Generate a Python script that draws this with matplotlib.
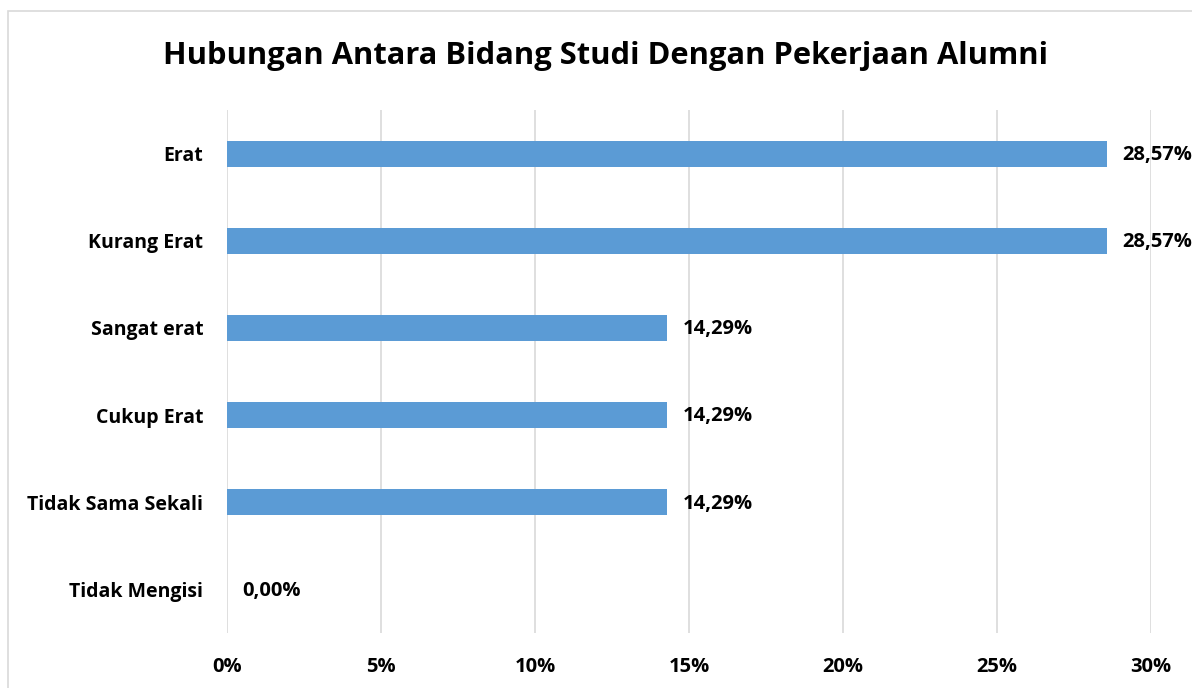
import matplotlib.pyplot as plt
from matplotlib.patches import Rectangle

plt.rcParams['font.family'] = ['Open Sans', 'DejaVu Sans']

# Data (top to bottom as shown)
categories = ["Erat", "Kurang Erat", "Sangat erat", "Cukup Erat",
              "Tidak Sama Sekali", "Tidak Mengisi"]
values = [28.57, 28.57, 14.29, 14.29, 14.29, 0.00]
labels = ["28,57%", "28,57%", "14,29%", "14,29%", "14,29%", "0,00%"]
xticks = [0, 5, 10, 15, 20, 25, 30]

fig = plt.figure(figsize=(11.92, 6.88), dpi=100)
ax = fig.add_axes([0.1904, 0.0799, 0.7752, 0.7602])

ypos = list(range(len(categories)))[::-1]
ax.barh(ypos, values, height=0.3, color="#5B9BD5", zorder=3)

for y, v, lab in zip(ypos, values, labels):
    ax.annotate(lab, (v, y), xytext=(11, -1), textcoords="offset points",
                ha="left", va="center", fontsize=14.5, fontweight="bold")

ax.set_xlim(0, 30)
ax.set_ylim(-0.5, len(categories) - 0.5)
ax.set_xticks(xticks)
ax.set_xticklabels([f"{t}%" for t in xticks], fontsize=14.5, fontweight="bold")
ax.set_yticks(ypos)
ax.set_yticklabels(categories, fontsize=14, fontweight="bold")
ax.tick_params(length=0)
ax.tick_params(axis="x", pad=17)
ax.tick_params(axis="y", pad=17)
ax.grid(axis="x", color="#D9D9D9", linewidth=1.2, zorder=0)
for s in ax.spines.values():
    s.set_visible(False)

fig.text(0.508, 0.918, "Hubungan Antara Bidang Studi Dengan Pekerjaan Alumni",
         ha="center", va="center", fontsize=22.2, fontweight="bold")

# light chart border
fig.patches.append(Rectangle((8 / 1192, -0.05), 1.1, 1 - 11 / 688 + 0.05,
                             transform=fig.transFigure, fill=False,
                             edgecolor="#D9D9D9", linewidth=1.2))

fig.savefig("out.png", dpi=100)
